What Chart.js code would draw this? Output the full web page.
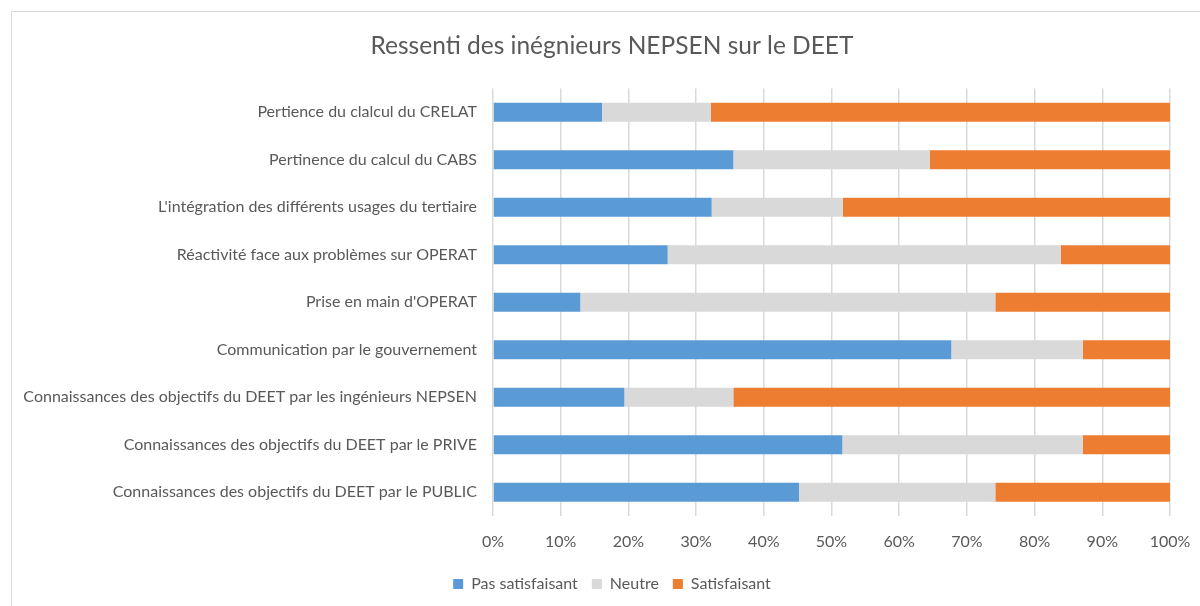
<!DOCTYPE html>
<html>
<head>
<meta charset="utf-8">
<script src="https://cdn.jsdelivr.net/npm/chart.js@4"></script>
<style>
  html, body { margin: 0; padding: 0; background: #fff; overflow: hidden; width: 1200px; height: 606px; }
  #frame { position: absolute; left: 11px; top: 11px; width: 1200px; height: 620px; border: 1px solid #d9d9d9; }
  #chart { display: block; }
</style>
</head>
<body>
<div id="frame"><canvas id="chart" width="1200" height="594"></canvas></div>
<script>
const categories = [
  'Pertience du clalcul du CRELAT',
  'Pertinence du calcul du CABS',
  "L'intégration des différents usages du tertiaire",
  'Réactivité face aux problèmes sur OPERAT',
  "Prise en main d'OPERAT",
  'Communication par le gouvernement',
  'Connaissances des objectifs du DEET par les ingénieurs NEPSEN',
  'Connaissances des objectifs du DEET par le PRIVE',
  'Connaissances des objectifs du DEET par le PUBLIC'
];

// shares in %
const pasSatisfaisant = [16.1, 35.5, 32.3, 25.8, 12.9, 67.7, 19.4, 51.6, 45.2];
const neutre          = [16.1, 29.0, 19.4, 58.1, 61.3, 19.4, 16.1, 35.5, 29.0];
const satisfaisant    = [67.8, 35.5, 48.3, 16.1, 25.8, 12.9, 64.5, 12.9, 25.8];

const xTicks = [0, 10, 20, 30, 40, 50, 60, 70, 80, 90, 100];

const FONT = 'Lato';
const TEXT = '#595959';

new Chart(document.getElementById('chart'), {
  type: 'bar',
  data: {
    labels: categories,
    datasets: [
      { label: 'Pas satisfaisant', data: pasSatisfaisant, backgroundColor: '#5b9bd5' },
      { label: 'Neutre', data: neutre, backgroundColor: '#d9d9d9' },
      { label: 'Satisfaisant', data: satisfaisant, backgroundColor: '#ed7d31' }
    ]
  },
  options: {
    indexAxis: 'y',
    responsive: false,
    animation: false,
    datasets: { bar: { categoryPercentage: 1, barPercentage: 0.4 } },
    layout: { padding: { top: 19, right: 0, bottom: 4, left: 0 } },
    plugins: {
      title: {
        display: true,
        text: 'Ressenti des inégnieurs NEPSEN sur le DEET',
        color: TEXT,
        font: { family: FONT, size: 24.5, weight: 'normal' },
        padding: { top: 0, bottom: 28 }
      },
      legend: {
        position: 'bottom',
        labels: {
          color: TEXT,
          font: { family: FONT, size: 16 },
          boxWidth: 10,
          boxHeight: 10,
          padding: 14
        }
      },
      tooltip: { enabled: false }
    },
    scales: {
      x: {
        stacked: true,
        min: 0,
        max: 100,
        afterBuildTicks: (axis) => { axis.ticks = xTicks.map(v => ({ value: v })); },
        afterFit: (axis) => { axis.height = 46; axis.paddingRight = 42; },
        ticks: {
          color: TEXT,
          font: { family: FONT, size: 16 },
          padding: 16,
          callback: (v) => v + '%'
        },
        grid: { color: '#d9d9d9', lineWidth: 1.5, drawTicks: false },
        border: { display: false }
      },
      y: {
        stacked: true,
        afterFit: (axis) => { axis.width = 481; },
        ticks: {
          color: TEXT,
          font: { family: FONT, size: 16 },
          padding: 16
        },
        grid: { display: false, drawTicks: false },
        border: { display: false }
      }
    }
  }
});
</script>
</body>
</html>
